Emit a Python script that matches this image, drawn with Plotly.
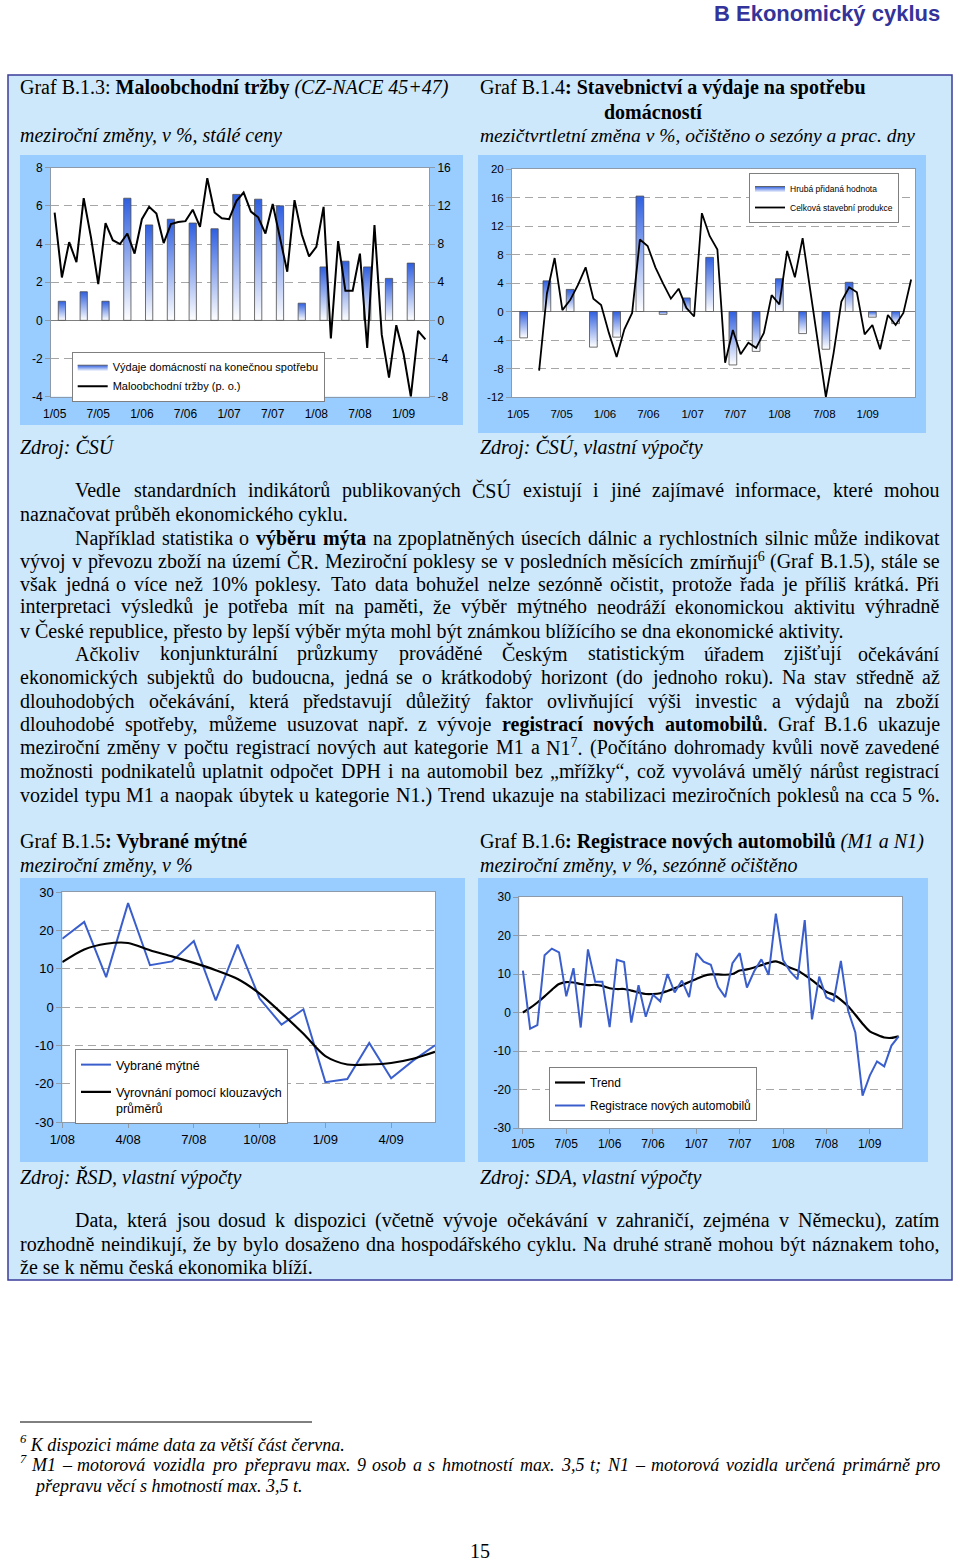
import plotly.graph_objects as go

W, H = 960, 1564
SERIF = "Liberation Serif"
SANS = "Liberation Sans"
BLUE = "#2f5fe0"
LINEBLUE = "#3a5fcd"
GRID = "#a6a6a6"
FRAME = "#8c9aaa"


def px(x):
    return x / W


def py(y):
    return 1 - y / H


# ---------------- data ----------------
# Graf B.1.3 (monthly category axis 1/05 .. 4/09, quarterly bars)
c1_tick_labels = ["1/05", "7/05", "1/06", "7/06", "1/07", "7/07", "1/08", "7/08", "1/09"]
c1_consumption = [1.0, 1.5, 1.0, 6.4, 5.0, 5.3, 5.1, 4.8, 6.6, 6.35, 6.0, 0.9, 2.8, 3.1, 2.8, 2.2, 3.0]
c1_retail = [11.3, 4.5, 8.2, 6.1, 12.8, 8.7, 3.8, 10.2, 8.4, 8.0, 9.1, 7.0, 10.6, 11.9, 11.2, 8.1,
             10.1, 10.3, 10.4, 11.6, 9.8, 14.9, 11.3, 10.7, 10.6, 12.5, 13.4, 11.4, 10.8, 9.1, 12.2, 8.8,
             5.1, 12.6, 9.0, 6.7, 7.7, 11.9, -1.9, 8.3, 3.1, 3.1, 7.0, -2.9, 10.0, -1.5, -6.0, -0.5,
             -3.5, -8.0, -1.1, -2.0]

# Graf B.1.4 (quarterly bars Q1/05..Q1/09, monthly line 4/05..4/09)
c2_tick_labels = ["1/05", "7/05", "1/06", "7/06", "1/07", "7/07", "1/08", "7/08", "1/09"]
c2_gva = [-3.7, 4.3, 3.1, -5.0, -3.6, 16.2, -0.4, 1.9, 7.6, -7.5, -5.6, 4.6, -3.1, -5.3, 4.1, -0.8, -1.7]
c2_construction = [-8.3, 2.5, 7.5, 0.2, 1.6, 3.7, 6.2, 1.8, 0.9, -3.0, -6.4, -2.5, -0.2, 10.1, 9.2, 6.2,
                   3.9, 1.8, 3.2, 0.5, -0.7, 13.8, 10.6, 8.7, -7.2, -2.6, -6.0, -4.4, -5.1, -3.0, 2.3,
                   1.0, 8.5, 4.8, 10.3, 3.0, -4.5, -12.0, -5.8, 1.4, 3.4, 2.7, -3.2, -1.9, -5.3, -0.5,
                   -1.9, -0.2, 4.5]

# Graf B.1.5 (monthly 1/08 .. 6/09)
c3_tick_labels = ["1/08", "4/08", "7/08", "10/08", "1/09", "4/09"]
c3_toll = [17.8, 22.2, 7.8, 27.1, 10.9, 11.9, 17.2, 1.7, 16.3, 2.2, -4.6, -0.6, -19.6, -18.8, -9.4,
           -18.6, -14.0, -10.0]
c3_moving_avg = [11.7, 15.0, 16.5, 16.7, 14.8, 13.2, 11.5, 9.6, 7.3, 3.5, -1.6, -7.0, -12.8, -15.0,
                 -15.0, -14.6, -13.5, -11.7]

# Graf B.1.6 (monthly 1/05 .. 5/09)
c4_tick_labels = ["1/05", "7/05", "1/06", "7/06", "1/07", "7/07", "1/08", "7/08", "1/09"]
c4_registrations = [10.9, -4.2, -3.3, 14.9, 16.6, 15.6, 4.2, 11.5, -3.9, 16.4, 8.0, 8.0, -3.8, 13.7,
                    13.1, -2.6, 7.1, -1.1, 4.6, 2.9, 10.0, 5.2, 8.3, 4.0, 15.4, 13.2, 12.4, 6.7, 4.0,
                    12.8, 15.4, 6.5, 10.7, 13.8, 9.8, 25.7, 13.6, 10.6, 8.6, 24.0, -1.8, 9.3, 3.9, 3.0,
                    13.4, 0.5, -5.2, -21.6, -16.4, -12.7, -14.0, -8.6, -6.2]
c4_trend = [0.0, 1.2, 2.6, 4.2, 5.9, 7.4, 7.9, 7.8, 7.4, 7.1, 7.2, 6.9, 6.3, 6.1, 6.1, 5.7, 5.2, 4.8,
            4.8, 5.0, 5.6, 6.3, 7.1, 7.9, 8.7, 9.5, 9.9, 9.9, 9.8, 10.0, 10.9, 11.2, 11.7, 12.3, 12.9,
            13.3, 12.6, 11.6, 10.9, 9.7, 8.4, 6.9, 5.4, 4.6, 3.3, 1.6, -0.6, -2.9, -4.9, -5.8, -6.5,
            -6.6, -6.2]

# ---------------- figure ----------------
fig = go.Figure()


def gradient_bars(centers, values, xa, ya, name, legend, group):
    for k, (c, v) in enumerate(zip(centers, values)):
        fig.add_trace(go.Scatter(
            x=[c - 0.5, c + 0.5, c + 0.5, c - 0.5, c - 0.5],
            y=[0, 0, v, v, 0],
            mode="lines", fill="toself",
            fillgradient=dict(type="vertical", colorscale=[[0, "#ffffff"], [1, BLUE]]),
            line=dict(color="#4d4d4d", width=0.8),
            xaxis=xa, yaxis=ya, name=name, showlegend=(k == 0),
            legend=legend, legendgroup=group, hoverinfo="skip"))


q_centers1 = [3 * q + 1 for q in range(len(c1_consumption))]
gradient_bars(q_centers1, c1_consumption, "x", "y",
              "Výdaje domácností na konečnou spotřebu", "legend", "a1")
fig.add_trace(go.Scatter(x=list(range(len(c1_retail))), y=c1_retail, mode="lines",
                         line=dict(color="black", width=2), xaxis="x", yaxis="y2",
                         name="Maloobchodní tržby (p. o.)", legend="legend", legendgroup="b1"))

q_centers2 = [3 * q + 1 for q in range(len(c2_gva))]
gradient_bars(q_centers2, c2_gva, "x2", "y3", "Hrubá přidaná hodnota", "legend2", "a2")
fig.add_trace(go.Scatter(x=list(range(3, 3 + len(c2_construction))), y=c2_construction,
                         mode="lines", line=dict(color="black", width=1.8), xaxis="x2", yaxis="y3",
                         name="Celková stavební produkce", legend="legend2", legendgroup="b2"))

fig.add_trace(go.Scatter(x=list(range(len(c3_toll))), y=c3_toll, mode="lines",
                         line=dict(color=LINEBLUE, width=2), xaxis="x3", yaxis="y4",
                         name="Vybrané mýtné", legend="legend3", legendgroup="a3"))
fig.add_trace(go.Scatter(x=list(range(len(c3_moving_avg))), y=c3_moving_avg, mode="lines",
                         line=dict(color="black", width=2.2, shape="spline", smoothing=0.8),
                         xaxis="x3", yaxis="y4",
                         name="Vyrovnání pomocí klouzavých<br>průměrů", legend="legend3",
                         legendgroup="b3"))

fig.add_trace(go.Scatter(x=list(range(len(c4_trend))), y=c4_trend, mode="lines",
                         line=dict(color="black", width=2.2, shape="spline", smoothing=0.8),
                         xaxis="x4", yaxis="y5", name="Trend", legend="legend4", legendgroup="a4"))
fig.add_trace(go.Scatter(x=list(range(len(c4_registrations))), y=c4_registrations, mode="lines",
                         line=dict(color=LINEBLUE, width=2), xaxis="x4", yaxis="y5",
                         name="Registrace nových automobilů", legend="legend4", legendgroup="b4"))


# ---------------- axes ----------------
def ticks_for(lo, hi, step):
    vals = list(range(lo, hi + 1, step))
    return vals, [str(v) for v in vals]


def xax(dom, anchor, rng, tickvals, ticktext, ticks="", size=12, standoff=0):
    return dict(domain=[px(dom[0]), px(dom[1])], anchor=anchor, range=rng, tickvals=tickvals,
                ticktext=ticktext, showgrid=False, zeroline=False, showline=True, mirror=True,
                linecolor=FRAME, linewidth=1, ticks=ticks, ticklen=5, tickcolor=FRAME,
                tickfont=dict(family=SANS, size=size, color="black"), fixedrange=True,
                automargin=False, ticklabelstandoff=standoff)


def yax(dom, anchor, rng, step, zeroline, size=12, side="left"):
    tv, tt = ticks_for(rng[0], rng[1], step)
    return dict(domain=[py(dom[1]), py(dom[0])], anchor=anchor, range=rng, tickvals=tv,
                ticktext=tt, showgrid=True, gridcolor=GRID, griddash="8px,5px", gridwidth=1,
                zeroline=zeroline, zerolinecolor="#7f7f7f", zerolinewidth=1,
                showline=True, mirror=True, linecolor=FRAME, linewidth=1,
                ticks="outside", ticklen=5, tickcolor=FRAME, side=side,
                tickfont=dict(family=SANS, size=size, color="black"), fixedrange=True,
                automargin=False)


tv2, tt2 = ticks_for(-8, 16, 4)
fig.update_layout(
    xaxis=xax((51, 429), "y", [-0.5, 51.5], list(range(0, 49, 6)), c1_tick_labels, standoff=6),
    yaxis=yax((167.7, 396.7), "x", [-4, 8], 2, True),
    yaxis2=dict(overlaying="y", side="right", anchor="x", range=[-8, 16], tickvals=tv2,
                ticktext=tt2, showgrid=False, zeroline=False, showline=True, linecolor=FRAME,
                ticks="outside", ticklen=5, tickcolor=FRAME,
                tickfont=dict(family=SANS, size=12, color="black"), fixedrange=True,
                automargin=False),
    xaxis2=xax((512, 915), "y3", [-0.5, 51.5],
               [0.3, 5.9, 11.5, 17.1, 22.8, 28.3, 34.0, 39.8, 45.4], c2_tick_labels, size=11.5,
               standoff=6),
    yaxis3=yax((169, 397), "x2", [-12, 20], 4, True, size=11.5),
    xaxis3=xax((62.3, 435), "y4", [0, 17], list(range(0, 16, 3)), c3_tick_labels,
               ticks="outside", size=13),
    yaxis4=yax((892, 1122), "x3", [-30, 30], 10, False, size=13),
    xaxis4=xax((519.3, 902.3), "y5", [-0.5, 52.5], list(range(0, 49, 6)), c4_tick_labels,
               ticks="outside", size=12),
    yaxis5=yax((897, 1128), "x4", [-30, 30], 10, False, size=12),
)


def legend_box(x, y, size, gap=0, valign="middle"):
    return dict(x=px(x), y=py(y), xanchor="left", yanchor="top", bgcolor="white",
                bordercolor="#7f7f7f", borderwidth=1, font=dict(family=SANS, size=size, color="black"),
                tracegroupgap=gap, valign=valign, itemwidth=30, traceorder="grouped")


fig.update_layout(
    legend=legend_box(71.7, 351.7, 11),
    legend2=legend_box(749, 173, 8.5),
    legend3=legend_box(75, 1049, 12.5, gap=8, valign="top"),
    legend4=legend_box(549, 1067, 12, gap=4),
)

# ---------------- page decoration ----------------
shapes = [
    dict(type="rect", xref="paper", yref="paper", x0=px(8), x1=px(952), y0=py(1280), y1=py(75),
         fillcolor="#cee8fb", line=dict(color="#3b3b9b", width=1.5), layer="below"),
]
for (x0, y0, x1, y1) in [(20, 155, 463, 425), (478, 155, 926, 433), (20, 878, 465, 1162),
                         (478, 878, 928, 1162)]:
    shapes.append(dict(type="rect", xref="paper", yref="paper", x0=px(x0), x1=px(x1),
                       y0=py(y1), y1=py(y0), fillcolor="#99ccff", line=dict(width=0), layer="below"))
for (x0, y0, x1, y1) in [(51, 167.7, 429, 396.7), (512, 169, 915, 397), (62.3, 892, 435, 1122),
                         (519.3, 897, 902.3, 1128)]:
    shapes.append(dict(type="rect", xref="paper", yref="paper", x0=px(x0), x1=px(x1),
                       y0=py(y1), y1=py(y0), fillcolor="white", line=dict(width=0), layer="below"))
shapes.append(dict(type="line", xref="paper", yref="paper", x0=px(20), x1=px(312), y0=py(1422),
                   y1=py(1422), line=dict(color="black", width=1)))

annotations = []


def ann(x, y, text, size=20, family=SERIF, xanchor="left", color="black"):
    annotations.append(dict(x=px(x), y=py(y), xref="paper", yref="paper", text=text,
                            showarrow=False, xanchor=xanchor, yanchor="middle", align="left",
                            font=dict(size=size, family=family, color=color),
                            borderpad=0, borderwidth=0))


# Times New Roman / Liberation Serif advance widths (1/1000 em)
_REG = dict(zip("abcdefghijklmnopqrstuvwxyz",
                [444, 500, 444, 500, 444, 333, 500, 500, 278, 278, 500, 278, 778, 500, 500, 500,
                 500, 333, 389, 278, 500, 500, 722, 500, 500, 444]))
_REG.update(dict(zip("ABCDEFGHIJKLMNOPQRSTUVWXYZ",
                     [722, 667, 667, 722, 611, 556, 722, 722, 333, 389, 722, 611, 889, 722, 722,
                      556, 722, 667, 556, 611, 722, 722, 944, 722, 722, 611])))
_REG.update({" ": 250, ",": 250, ".": 250, "(": 333, ")": 333, "%": 833, ":": 278, ";": 278,
             "/": 278, "-": 333, "„": 444, "“": 444, "–": 500})
for d in "0123456789":
    _REG[d] = 500
_BOLD = dict(zip("abcdefghijklmnopqrstuvwxyz",
                 [500, 556, 444, 556, 444, 333, 500, 556, 278, 333, 556, 278, 833, 556, 500, 556,
                  556, 444, 389, 333, 556, 500, 722, 500, 500, 444]))
_BOLD.update({" ": 250, ",": 250, ".": 250, ":": 333})
_ITAL = dict(zip("abcdefghijklmnopqrstuvwxyz",
                 [500, 500, 444, 500, 444, 278, 500, 500, 278, 278, 444, 278, 722, 500, 500, 500,
                  500, 389, 389, 278, 500, 444, 667, 444, 444, 389]))
_ITAL.update({" ": 250, ",": 250, ".": 250, ";": 333, "–": 500, "K": 667, "M": 833, "N": 667})
for d in "0123456789":
    _ITAL[d] = 500
_BASE = str.maketrans("áčďéěíňóřšťúůýžČŘŠÚŽ", "acdeeinorstuuyzCRSUZ")


def word_width(word, table, size):
    w = 0
    for ch in word.translate(_BASE):
        w += table.get(ch, 500)
    return w * size / 1000.0


def text_line(x0, y, line, size=20, justify_to=None, italic=False):
    """Place one line of text; '**' toggles bold, 'base^sup^tail' marks a superscript."""
    tokens = line.split(" ")
    bold = False
    words = []
    for tok in tokens:
        if tok == "":
            continue
        if tok.startswith("**"):
            bold = True
            tok = tok[2:]
        b_end = "**" in tok
        clean = tok.replace("**", "")
        sup, tail = None, ""
        if "^" in clean:
            parts = clean.split("^")
            clean, sup = parts[0], parts[1]
            tail = parts[2] if len(parts) > 2 else ""
        table = _ITAL if italic else (_BOLD if bold else _REG)
        w = word_width(clean + tail, table, size)
        markup = clean
        if bold:
            if "**" in tok and not tok.endswith("**"):
                head, rest = tok.split("**")
                markup = "<b>" + head + "</b>" + rest
            else:
                markup = "<b>" + clean + "</b>"
        if sup:
            markup += "<sup>" + sup + "</sup>" + tail
            w += 0.7 * size * 0.5
        if italic:
            markup = "<i>" + markup + "</i>"
        words.append((markup, w))
        if b_end:
            bold = False
    if justify_to is None:
        ann(x0, y, " ".join(m for m, _ in words), size=size)
        return
    total = sum(w for _, w in words)
    gap = (justify_to - x0 - total) / max(len(words) - 1, 1)
    x = x0
    for i, (m, w) in enumerate(words):
        if i == len(words) - 1:
            ann(justify_to, y, m, size=size, xanchor="right")
        else:
            ann(x, y, m, size=size)
        x += w + gap


ann(940, 14, "<b>B Ekonomický cyklus</b>", size=22, family=SANS, xanchor="right", color="#333399")

ann(20, 88, "Graf B.1.3: <b>Maloobchodní tržby</b> <i>(CZ-NACE 45+47)</i>")
ann(20, 136, "<i>meziroční změny, v %, stálé ceny</i>")
ann(480, 88, "Graf B.1.4<b>: Stavebnictví a výdaje na spotřebu</b>")
ann(653, 112, "<b>domácností</b>", xanchor="center")
ann(480, 136, "<i>mezičtvrtletní změna v %, očištěno o sezóny a prac. dny</i>", size=19.5)
ann(20, 447, "<i>Zdroj: ČSÚ</i>")
ann(480, 447, "<i>Zdroj: ČSÚ, vlastní výpočty</i>")

RIGHT = 940
body = [
    (75, 490, "Vedle standardních indikátorů publikovaných ČSÚ existují i jiné zajímavé informace, které mohou", True),
    (20, 514, "naznačovat průběh ekonomického cyklu.", False),
    (75, 538, "Například statistika o **výběru mýta** na zpoplatněných úsecích dálnic a rychlostních silnic může indikovat", True),
    (20, 561, "vývoj v převozu zboží na území ČR. Meziroční poklesy se v posledních měsících zmírňují^6 (Graf B.1.5), stále se", True),
    (20, 584, "však jedná o více než 10% poklesy. Tato data bohužel nelze sezónně očistit, protože řada je příliš krátká. Při", True),
    (20, 607, "interpretaci výsledků je potřeba mít na paměti, že výběr mýtného neodráží ekonomickou aktivitu výhradně", True),
    (20, 631, "v České republice, přesto by lepší výběr mýta mohl být známkou blížícího se dna ekonomické aktivity.", False),
    (75, 654, "Ačkoliv konjunkturální průzkumy prováděné Českým statistickým úřadem zjišťují očekávání", True),
    (20, 677, "ekonomických subjektů do budoucna, jedná se o krátkodobý horizont (do jednoho roku). Na stav středně až", True),
    (20, 701, "dlouhodobých očekávání, která představují důležitý faktor ovlivňující výši investic a výdajů na zboží", True),
    (20, 724, "dlouhodobé spotřeby, můžeme usuzovat např. z vývoje **registrací nových automobilů**. Graf B.1.6 ukazuje", True),
    (20, 747, "meziroční změny v počtu registrací nových aut kategorie M1 a N1^7^. (Počítáno dohromady kvůli nově zavedené", True),
    (20, 771, "možnosti podnikatelů uplatnit odpočet DPH i na automobil bez „mřížky“, což vyvolává umělý nárůst registrací", True),
    (20, 795, "vozidel typu M1 a naopak úbytek u kategorie N1.) Trend ukazuje na stabilizaci meziročních poklesů na cca 5 %.", True),
    (75, 1220, "Data, která jsou dosud k dispozici (včetně vývoje očekávání v zahraničí, zejména v Německu), zatím", True),
    (20, 1244, "rozhodně neindikují, že by bylo dosaženo dna hospodářského cyklu. Na druhé straně mohou být náznakem toho,", True),
    (20, 1267, "že se k němu česká ekonomika blíží.", False),
]
for x, y, t, just in body:
    text_line(x, y, t, justify_to=RIGHT if just else None)

ann(20, 841, "Graf B.1.5<b>: Vybrané mýtné</b>")
ann(20, 865, "<i>meziroční změny, v %</i>")
ann(480, 841, "Graf B.1.6<b>: Registrace nových automobilů</b> <i>(M1 a N1)</i>")
ann(480, 865, "<i>meziroční změny, v %, sezónně očištěno</i>")
ann(20, 1177, "<i>Zdroj: ŘSD, vlastní výpočty</i>")
ann(480, 1177, "<i>Zdroj: SDA, vlastní výpočty</i>")

ann(20, 1443, "<i><sup>6</sup> K dispozici máme data za větší část června.</i>", size=18)
ann(20, 1459, "<i>7</i>", size=12.5)
text_line(31, 1465, "M1 – motorová vozidla pro přepravu max. 9 osob a s hmotností max. 3,5 t; N1 – motorová vozidla určená primárně pro",
          size=18, justify_to=RIGHT, italic=True)
ann(34, 1486, "<i>přepravu věcí s hmotností max. 3,5 t.</i>", size=18)
ann(480, 1551, "15", size=20, xanchor="center")

fig.update_layout(
    width=W, height=H, margin=dict(l=0, r=0, t=0, b=0, pad=0, autoexpand=False),
    paper_bgcolor="white", plot_bgcolor="white",
    shapes=shapes, annotations=annotations, showlegend=True,
)

fig.write_html("out.html", config={"responsive": False, "displayModeBar": False},
               post_script="document.body.style.margin='0px';")
